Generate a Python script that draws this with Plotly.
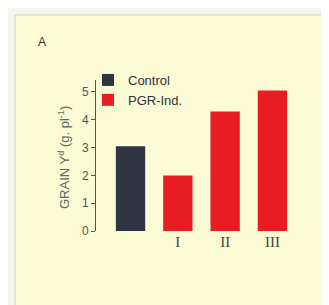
import plotly.graph_objects as go

categories = ["Control", "I", "II", "III"]
tick_labels = ["I", "II", "III"]
control_values = [3.05, None, None, None]
pgr_values = [None, 2.0, 4.3, 5.05]

W, H = 329, 305
L, R, T, B = 88, 22, 72, 82
pw, ph = W - L - R, H - T - B

def px(x):
    return (x - L) / pw

def py(y):
    return (H - B - y) / ph

fig = go.Figure()
fig.add_trace(go.Bar(x=categories, y=control_values, name="Control",
                     marker=dict(color="#2f3342", line=dict(width=0)), width=0.62))
fig.add_trace(go.Bar(x=categories, y=pgr_values, name="PGR-Ind.",
                     marker=dict(color="#e81c22", line=dict(width=0)), width=0.62))

fig.add_shape(type="rect", xref="paper", yref="paper",
              x0=px(7), x1=px(335), y0=py(310), y1=py(7),
              fillcolor="#fafad4", line=dict(color="#cfcfc4", width=1), layer="below")

fig.add_annotation(text="A", xref="paper", yref="paper", x=px(28), y=py(25),
                   showarrow=False, font=dict(family="Liberation Sans", size=12, color="#333"))

fig.add_annotation(text="GRAIN Y<sup>d</sup> (g. pl<sup>-1</sup>)", xref="paper", yref="paper",
                   x=px(56), y=py(150), xanchor="center", yanchor="middle",
                   textangle=-90, showarrow=False,
                   font=dict(family="Liberation Sans", size=13, color="#666"))

fig.update_layout(
    width=W, height=H,
    margin=dict(l=L, r=R, t=T, b=B),
    paper_bgcolor="#f5f5ee",
    plot_bgcolor="rgba(0,0,0,0)",
    barmode="overlay",
    showlegend=True,
    legend=dict(x=px(80), y=py(57), xanchor="left", yanchor="top",
                bgcolor="rgba(0,0,0,0)", font=dict(family="Liberation Sans", size=13, color="#333"),
                tracegroupgap=0, itemwidth=30),
    xaxis=dict(categoryorder="array", categoryarray=categories,
               tickvals=tick_labels, ticktext=tick_labels,
               range=[-0.73, 3.9], showline=False, showgrid=False, ticks="",
               tickfont=dict(family="Liberation Serif", size=15, color="#444")),
    yaxis=dict(range=[0, 5.43], tickvals=[0, 1, 2, 3, 4, 5], showgrid=False,
               showline=True, linecolor="#555", linewidth=1, ticks="outside",
               ticklen=4, tickcolor="#555", zeroline=False,
               tickfont=dict(family="Liberation Sans", size=12, color="#555")),
)

fig.write_html("out.html")
